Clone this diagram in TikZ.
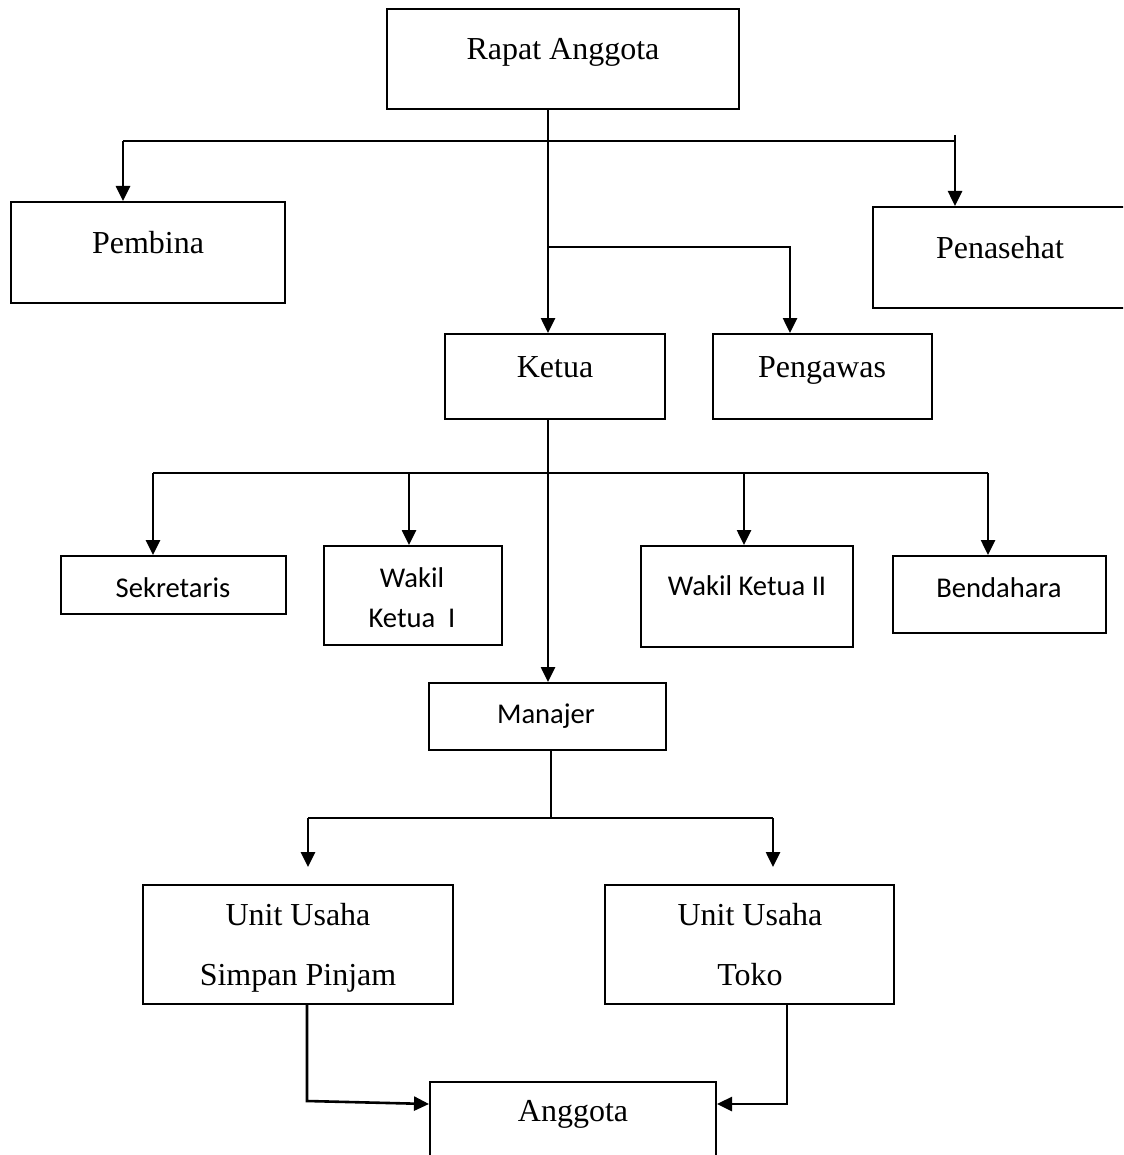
\documentclass[tikz,border=0pt]{standalone}
\usepackage{fontspec}
\setmainfont{Liberation Serif}
\newfontfamily\calibri{Carlito}
\usetikzlibrary{arrows.meta}
\tikzset{
	box/.style={draw, line width=1pt, inner sep=0pt},
	conn/.style={line width=1.3pt},
	arr/.style={conn, -{Triangle[width=7pt,length=7.5pt]}},
	lbl/.style={anchor=base, inner sep=0pt, font=\fontsize{16}{19}\selectfont},
	lblsf/.style={anchor=base, inner sep=0pt, font=\calibri\fontsize{14.3}{17}\selectfont},
}
\begin{document}
\begin{tikzpicture}[x=0.5pt, y=-0.5pt]
	\useasboundingbox[fill=white] (0,0) rectangle (1123,1155);
	\clip (0,0) rectangle (1123,1155);
	% boxes
	\node[box, minimum width=176pt, minimum height=50pt] (rapat) at (563,59) {};
	\node[box, minimum width=137pt, minimum height=50.5pt] (pembina) at (148,252.5) {};
	\node[box, minimum width=127pt, minimum height=50.5pt] (penasehat) at (1000,257.5) {};
	\node[box, minimum width=110pt, minimum height=42.5pt] (ketua) at (555,376.5) {};
	\node[box, minimum width=109.5pt, minimum height=42.5pt] (pengawas) at (822.5,376.5) {};
	\node[box, minimum width=112.5pt, minimum height=29pt] (sekretaris) at (173.5,585) {};
	\node[box, minimum width=89pt, minimum height=49.5pt] (wakil1) at (413,595.5) {};
	\node[box, minimum width=106pt, minimum height=50.5pt] (wakil2) at (747,596.5) {};
	\node[box, minimum width=106.5pt, minimum height=38.5pt] (bendahara) at (999.5,594.5) {};
	\node[box, minimum width=118.5pt, minimum height=33.5pt] (manajer) at (547.5,716.5) {};
	\node[box, minimum width=155pt, minimum height=59.5pt] (simpan) at (298,944.5) {};
	\node[box, minimum width=144.5pt, minimum height=59.5pt] (toko) at (749.5,944.5) {};
	\node[box, minimum width=143pt, minimum height=48pt] (anggota) at (573,1130) {};
	% texts
	\node[lbl] (rapat-t) at (563,60) {Rapat Anggota};
	\node[lbl] (pembina-t) at (148,253) {Pembina};
	\node[lbl] (penasehat-t) at (1000,258) {Penasehat};
	\node[lbl] (ketua-t) at (555,377) {Ketua};
	\node[lbl] (pengawas-t) at (822,377) {Pengawas};
	\node[lblsf] (sekretaris-t) at (173,597) {Sekretaris};
	\node[lblsf] (wakil1-t) at (412,587) {Wakil};
	\node[lblsf] (wakil1-u) at (412,627) {Ketua\ \ I};
	\node[lblsf] (wakil2-t) at (747,595) {Wakil Ketua II};
	\node[lblsf] (bendahara-t) at (999,597) {Bendahara};
	\node[lblsf] (manajer-t) at (546,723) {Manajer};
	\node[lbl] (simpan-t) at (298,925) {Unit Usaha};
	\node[lbl] (simpan-u) at (298,985) {Simpan Pinjam};
	\node[lbl] (toko-t) at (750,925) {Unit Usaha};
	\node[lbl] (toko-u) at (750,985) {Toko};
	\node[lbl] (anggota-t) at (573,1121) {Anggota};
	% rapat anggota
	\coordinate (a0) at (548,141);
	\coordinate (a1) at (123,141);
	\coordinate (a2) at (955,135);
	\draw[arr] (rapat.south -| a0) -- (ketua.north -| a0);
	\draw[conn] (a1) -- (a1 -| a2);
	\draw[arr] (a1) -- (a1 |- pembina.north);
	\draw[arr] (a2) -- (a2 |- penasehat.north);
	\coordinate (b1) at (790,247);
	\draw[arr] (a0 |- b1) -- (b1) -- (b1 |- pengawas.north);
	% ketua
	\coordinate (c1) at (153,473);
	\coordinate (c2) at (409,473);
	\coordinate (c3) at (744,473);
	\coordinate (c4) at (988,473);
	\draw[arr] (ketua.south -| a0) -- (manajer.north -| a0);
	\draw[conn] (c1) -- (c4);
	\draw[arr] (c1) -- (c1 |- sekretaris.north);
	\draw[arr] (c2) -- (c2 |- wakil1.north);
	\draw[arr] (c3) -- (c3 |- wakil2.north);
	\draw[arr] (c4) -- (c4 |- bendahara.north);
	% manajer
	\coordinate (d0) at (551,818);
	\coordinate (d1) at (308,818);
	\coordinate (d2) at (773,818);
	\coordinate (e1) at (308,867);
	\coordinate (e2) at (773,867);
	\draw[conn] (manajer.south -| d0) -- (d0);
	\draw[conn] (d1) -- (d2);
	\draw[arr] (d1) -- (e1);
	\draw[arr] (d2) -- (e2);
	% anggota
	\coordinate (f1) at (307,1101);
	\coordinate (f2) at (787,1104);
	\draw[arr] (simpan.south -| f1) -- (f1) -- (anggota.west |- f2);
	\draw[arr] (toko.south -| f2) -- (f2) -- (anggota.east |- f2);
\end{tikzpicture}
\end{document}
